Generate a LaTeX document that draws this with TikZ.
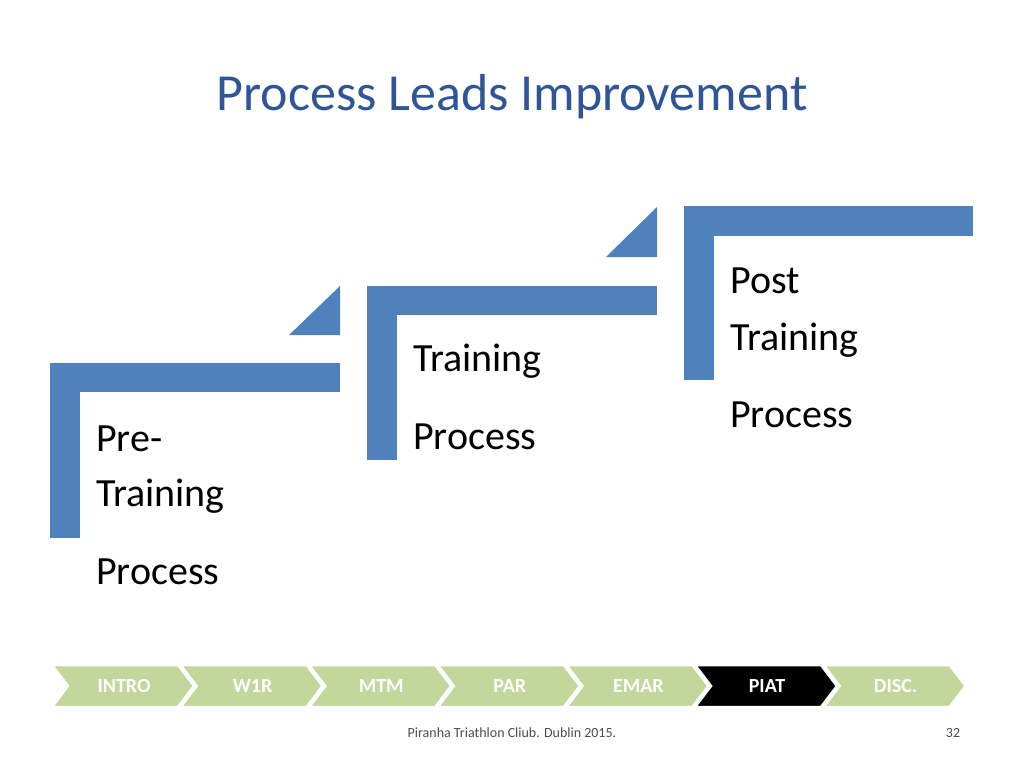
\documentclass[tikz,border=0pt]{standalone}
\usepackage{fontspec}
\setmainfont{Carlito}
\definecolor{bl}{HTML}{4F81BD}
\definecolor{tt}{HTML}{2F5597}
\definecolor{gr}{HTML}{C3D69B}
\begin{document}
\begin{tikzpicture}[x=1pt,y=-1pt,
  bar/.style={fill=bl,draw=none},
  lbl/.style={anchor=base west,font=\fontsize{40}{44}\selectfont,inner sep=0},
  chev/.style={fill=gr,draw=white,line width=2.5pt},
  nav/.style={font=\bfseries\fontsize{20}{24}\selectfont,text=white}]
\useasboundingbox (0,0) rectangle (1024,768);
\node[font=\fontsize{52}{60}\selectfont,text=tt] (title) at (512,97) {Process Leads Improvement};
% step 1
\fill[bar] (50,363) rectangle (340,392);
\fill[bar] (50,363) rectangle (80,538);
\fill[bar] (289,335) -- (340,286) -- (340,335) -- cycle;
% step 2
\fill[bar] (367,286) rectangle (657,315);
\fill[bar] (367,286) rectangle (397,460);
\fill[bar] (606,257) -- (657,207) -- (657,257) -- cycle;
% step 3
\fill[bar] (684,206) rectangle (973,236);
\fill[bar] (684,206) rectangle (714,380);
\node[lbl] (p1) at (96,451) {Pre-};
\node[lbl] (p2) at (96,506) {Training};
\node[lbl] (p3) at (96,584) {Process};
\node[lbl] (t1) at (413,371) {Training};
\node[lbl] (t2) at (413,449) {Process};
\node[lbl] (q1) at (730,293) {Post};
\node[lbl] (q2) at (730,350) {Training};
\node[lbl] (q3) at (730,427) {Process};
% nav
\foreach \i/\t in {0/INTRO,1/W1R,2/MTM,3/PAR,4/EMAR,5/PIAT,6/DISC.}{
  \pgfmathsetmacro{\xo}{52+\i*128.6}
  \ifnum\i=5
    \filldraw[chev,fill=black] (\xo,665) -- ++(126,0) -- ++(16,21) -- ++(-16,21) -- ++(-126,0) -- ++(16,-21) -- cycle;
  \else
    \filldraw[chev] (\xo,665) -- ++(126,0) -- ++(16,21) -- ++(-16,21) -- ++(-126,0) -- ++(16,-21) -- cycle;
  \fi
  \node[nav] (n\i) at (\xo+72,686) {\t};
}
\node[font=\fontsize{14}{16}\selectfont,text=black!70] (foot) at (512,733) {Piranha Triathlon Cliub. Dublin 2015.};
\node[font=\fontsize{14}{16}\selectfont,text=black!70] (num) at (953,733) {32};
\end{tikzpicture}
\end{document}
